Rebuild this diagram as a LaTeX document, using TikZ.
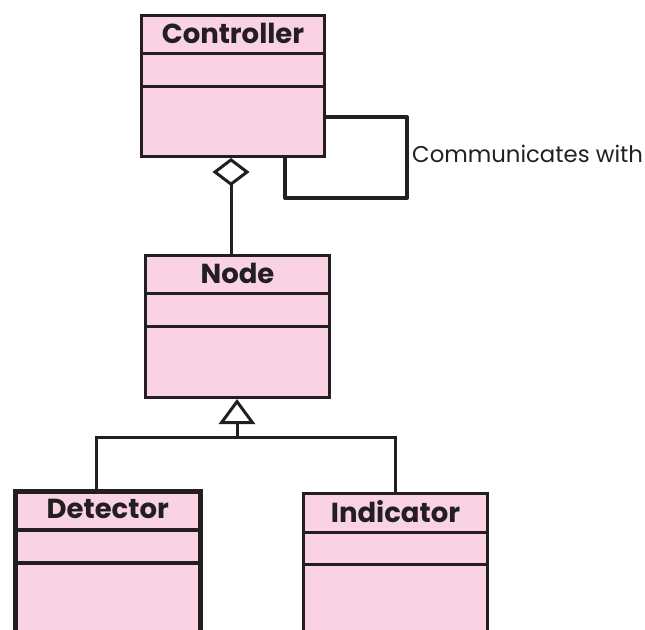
\documentclass[tikz,border=0pt]{standalone}
\usepackage{fontspec}
\setmainfont{Poppins}
\usetikzlibrary{arrows.meta}
\definecolor{umlpink}{HTML}{F9D3E4}
\definecolor{umlink}{HTML}{231F20}
\tikzset{
  classbox/.style={draw=umlink, fill=umlpink, line width=3pt, rectangle, anchor=north west, inner sep=0pt},
  divider/.style={draw=umlink, line width=3pt},
  classtitle/.style={font=\fontsize{27.5}{30}\selectfont\bfseries, text=umlink, inner sep=0pt},
  conn/.style={draw=umlink, line width=3pt},
  loopconn/.style={draw=umlink, line width=4pt, line join=round},
  linklabel/.style={font=\fontsize{22.8}{26}\selectfont, text=umlink, anchor=west, inner sep=0pt},
}
\begin{document}
\begin{tikzpicture}[x=1pt, y=-1pt]
\useasboundingbox (0,0) rectangle (645,629);
\clip (0,0) rectangle (645,629);
% classes
\node[classbox, minimum width=183pt, minimum height=141pt] (ctrl) at (140,14) {};
\node[classbox, minimum width=184pt, minimum height=142pt] (node) at (144,254) {};
\node[classbox, line width=4.5pt, minimum width=185pt, minimum height=170pt] (det) at (13,489) {};
\node[classbox, minimum width=184pt, minimum height=170pt] (ind) at (302,492) {};
% dividers
\draw[divider] ([yshift=-39pt]ctrl.north west) -- ([yshift=-39pt]ctrl.north east);
\draw[divider] ([yshift=-72pt]ctrl.north west) -- ([yshift=-72pt]ctrl.north east);
\draw[divider] ([yshift=-39pt]node.north west) -- ([yshift=-39pt]node.north east);
\draw[divider] ([yshift=-72pt]node.north west) -- ([yshift=-72pt]node.north east);
\draw[divider, line width=4pt] ([yshift=-41pt]det.north west) -- ([yshift=-41pt]det.north east);
\draw[divider, line width=4pt] ([yshift=-74pt]det.north west) -- ([yshift=-74pt]det.north east);
\draw[divider] ([yshift=-40pt]ind.north west) -- ([yshift=-40pt]ind.north east);
\draw[divider] ([yshift=-72pt]ind.north west) -- ([yshift=-72pt]ind.north east);
% titles
\node[classtitle] (ctrlt) at ([yshift=-19pt]ctrl.north) {Controller};
\node[classtitle] (nodet) at ([yshift=-19pt]node.north) {Node};
\node[classtitle] (dett) at ([yshift=-20pt]det.north) {Detector};
\node[classtitle] (indt) at ([yshift=-20pt]ind.north) {Indicator};
% aggregation
\coordinate (aggx) at (231,0);
\draw[conn, -{Diamond[open, length=28pt, width=37pt, line width=3pt]}] (node.north -| aggx) -- (ctrl.south -| aggx);
% self association
\coordinate (loopin) at (0,117);
\coordinate (loopc) at (407,198);
\coordinate (loopx) at (285,0);
\draw[loopconn] (ctrl.east |- loopin) -| (loopc) -| (ctrl.south -| loopx);
\node[linklabel] (loopl) at (412,154) {Communicates with};
% generalization
\coordinate (jn) at (237,437);
\coordinate (detx) at (96,0);
\coordinate (indx) at (395,0);
\draw[conn, -{Triangle[open, length=25pt, width=36pt, line width=3pt]}] (jn) -- (node.south -| jn);
\draw[conn] (det.north -| detx) |- (jn) -| (ind.north -| indx);
\end{tikzpicture}
\end{document}
